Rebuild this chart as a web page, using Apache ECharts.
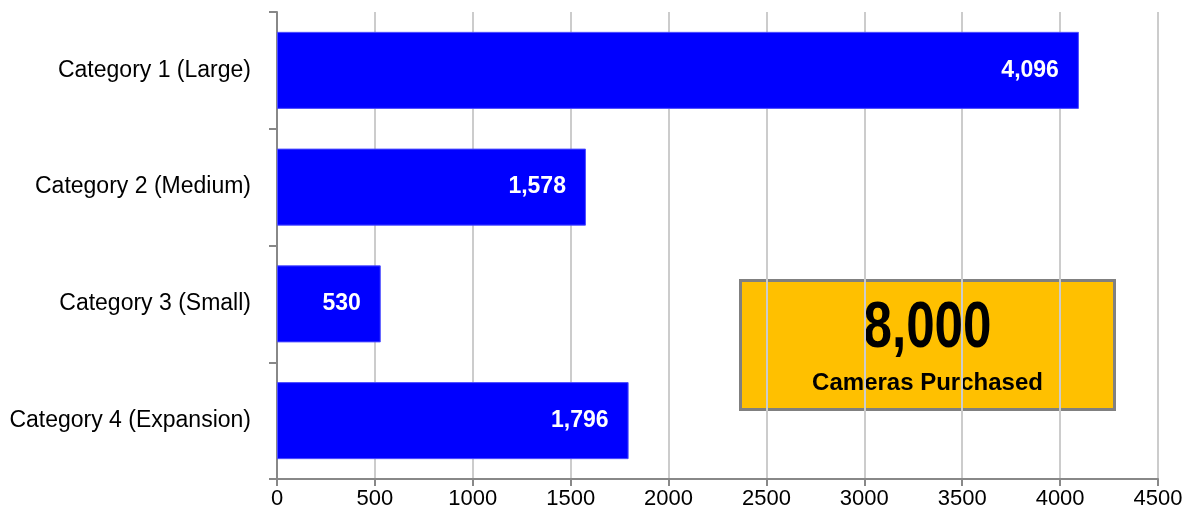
<!DOCTYPE html>
<html><head><meta charset="utf-8">
<script src="https://cdn.jsdelivr.net/npm/echarts@6/dist/echarts.min.js"></script>
<style>html,body{margin:0;padding:0;background:#fff}#c{width:1188px;height:525px}</style>
</head><body><div id="c"></div>
<script>
const categories = ["Category 1 (Large)", "Category 2 (Medium)", "Category 3 (Small)", "Category 4 (Expansion)"];
const values = [4096, 1578, 530, 1796];
const totalText = "8,000";
const totalLabel = "Cameras Purchased";
const FONT = '"Liberation Sans Narrow", "Arial Narrow", "Liberation Sans", sans-serif';

const chart = echarts.init(document.getElementById('c'));
chart.setOption({
  animation: false,
  grid: { left: 277, right: 30, top: 12, bottom: 46, containLabel: false },
  xAxis: {
    type: 'value', min: 0, max: 4500, interval: 500,
    axisLine: { show: true, lineStyle: { color: '#888888', width: 2 } },
    axisTick: { show: true, length: 7, lineStyle: { color: '#888888', width: 2 } },
    axisLabel: { color: '#000', fontSize: 22, fontFamily: FONT, margin: 9, formatter: v => String(v) },
    splitLine: { show: true, lineStyle: { color: '#cccccc', width: 2 } }
  },
  yAxis: {
    type: 'category', data: categories, inverse: true,
    axisLine: { show: true, lineStyle: { color: '#888888', width: 2 } },
    axisTick: { show: true, length: 8, alignWithLabel: false, lineStyle: { color: '#888888', width: 2 } },
    axisLabel: { color: '#000', fontSize: 23, fontFamily: FONT, margin: 26 },
    splitLine: { show: false }
  },
  series: [{
    type: 'bar', data: values, barWidth: '66%',
    itemStyle: { color: '#0000FF', borderColor: '#4d4dff', borderWidth: 1 },
    label: {
      show: true, position: 'insideRight', distance: 20,
      color: '#fff', fontWeight: 'bold', fontSize: 23, fontFamily: FONT,
      formatter: p => p.value.toLocaleString('en-US')
    }
  }],
  graphic: [{
    type: 'group', left: 739, top: 279,
    children: [
      { type: 'rect', shape: { x: 0, y: 0, width: 374, height: 129 },
        style: { fill: '#FFC000', stroke: '#808080', lineWidth: 3 } },
      { type: 'text', x: 187, y: 49, scaleX: 0.8,
        style: { text: totalText, fill: '#000', font: 'bold 64px "Liberation Sans", Arial, sans-serif', align: 'center', verticalAlign: 'middle' } },
      { type: 'text', x: 187, y: 103,
        style: { text: totalLabel, fill: '#000', font: 'bold 24px ' + FONT, align: 'center', verticalAlign: 'middle' } }
    ]
  }]
});
</script></body></html>
